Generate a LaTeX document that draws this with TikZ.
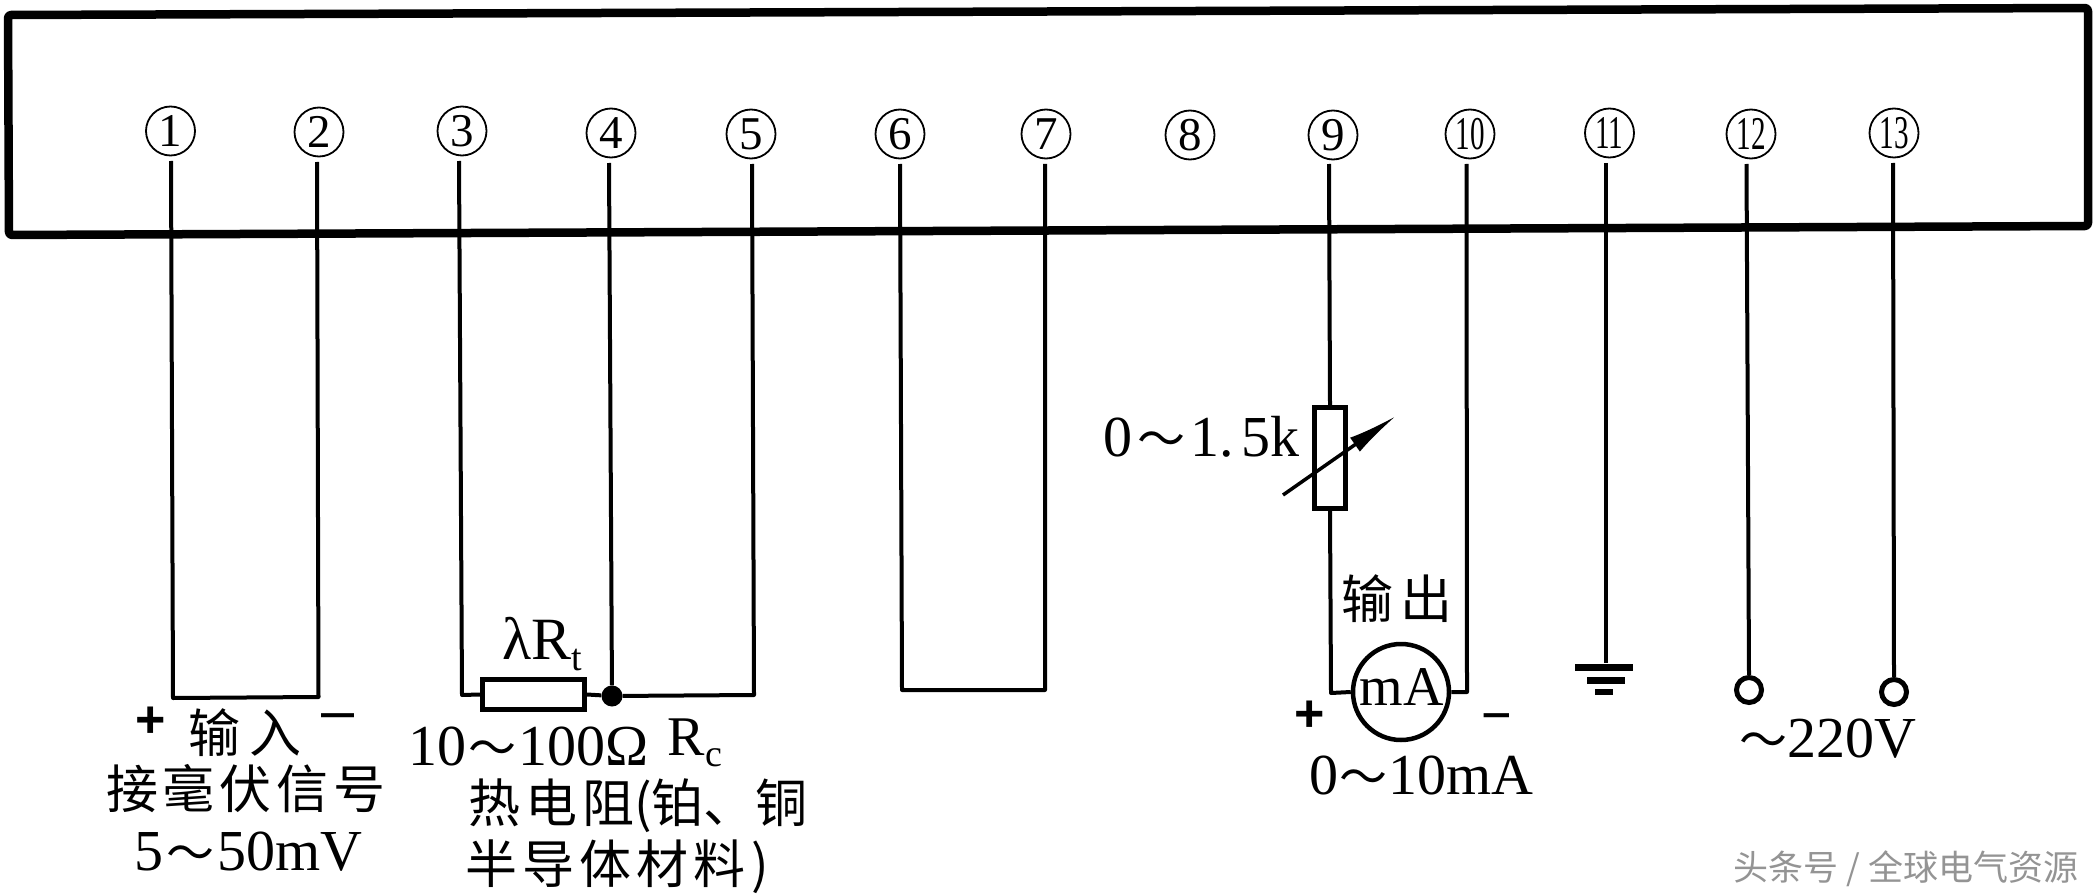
\documentclass[tikz,border=0pt]{standalone}
\usepackage{fontspec}
\setmainfont{Liberation Serif}
\newfontfamily\cjk{Noto Sans CJK SC}
\newfontfamily\pmfont{Liberation Sans}
\usetikzlibrary{arrows.meta,shapes.geometric}
\newcommand\fs[1]{\fontsize{#1}{#1}\selectfont}
\newcommand\wave{{\cjk\fs{48}～}}
\newcommand\sbs[1]{\raisebox{-11pt}{\fs{38}#1}}
\tikzset{
  wire/.style={draw=black,line width=4pt,line join=round},
  pin/.style={circle,draw=black,line width=1.8pt,minimum size=49pt,inner sep=0pt,font=\fs{47}},
  cjkt/.style={inner sep=0pt,anchor=center,font=\cjk\fs{52}},
  rom/.style={inner sep=0pt,anchor=base,font=\fs{58}},
  sign/.style={inner sep=0pt,anchor=center,font=\pmfont\bfseries\fs{52}},
  dash sign/.style={inner sep=0pt,anchor=center,font=\pmfont\fs{52}},
  res/.style={rectangle,draw=black,fill=white,line width=5pt,inner sep=0pt},
  term/.style={circle,draw=black,fill=white,line width=5pt,minimum size=25pt,inner sep=0pt},
}
\begin{document}
\begin{tikzpicture}[x=1pt,y=-1pt]
\useasboundingbox (0,0) rectangle (2096,896);
\fill[white] (0,0) rectangle (2096,896);
% housing
\draw[line width=8.5pt,line join=round,rounded corners=3pt] (8,15) -- (2088,8) -- (2088,226) -- (9,235) -- cycle;
% terminal labels
\node[pin] (n1) at (170.5,131) {1};
\node[pin] (n2) at (319,132) {2};
\node[pin] (n3) at (462,131) {3};
\node[pin] (n4) at (611,133) {4};
\node[pin] (n5) at (751,134) {5};
\node[pin] (n6) at (900,134) {6};
\node[pin] (n7) at (1046,134) {7};
\node[pin] (n8) at (1190,135) {8};
\node[pin] (n9) at (1333,135) {9};
\node[pin] (n10) at (1470,134) {\scalebox{.62}[1]{10}};
\node[pin] (n11) at (1609.5,133) {\scalebox{.62}[1]{11}};
\node[pin] (n12) at (1751,134) {\scalebox{.62}[1]{12}};
\node[pin] (n13) at (1894,133) {\scalebox{.62}[1]{13}};
% wire tops
\coordinate (t1) at (171,161);
\coordinate (t2) at (317,162);
\coordinate (t3) at (459,161);
\coordinate (t4) at (609,163);
\coordinate (t5) at (752,164);
\coordinate (t6) at (900,164);
\coordinate (t7) at (1045,164);
\coordinate (t9) at (1329,164);
\coordinate (t10) at (1466.5,164);
\coordinate (t11) at (1605.5,163);
\coordinate (t12) at (1746.5,164);
\coordinate (t13) at (1893,163);
% input loop
\coordinate (b1) at (173,698);
\coordinate (b2) at (318.5,697);
\draw[wire] (t1) -- (b1) -- (b2) -- (t2);
% RTD loop
\node[res,minimum width=102pt,minimum height=30pt] (rt) at (533.5,694.5) {};
\node[circle,fill=black,minimum size=21pt,inner sep=0pt] (dot) at (612,696) {};
\coordinate (b3) at (462,695);
\coordinate (b5) at (754,695);
\draw[wire] (t3) -- (b3) -- (rt.west);
\draw[wire] (t4) -- (dot);
\draw[wire] (rt.east) -- (dot) -- (b5) -- (t5);
% loop 6-7
\coordinate (b6) at (902,690);
\coordinate (b7) at (1045,690);
\draw[wire] (t6) -- (b6) -- (b7) -- (t7);
% output loop
\node[res,minimum width=31pt,minimum height=101pt] (rv) at (1330,458) {};
\node[circle,draw=black,fill=white,line width=4.5pt,minimum size=96pt,inner sep=0pt] (ma) at (1401,692) {};
\coordinate (b9) at (1331,693);
\coordinate (b10) at (1467,692);
\draw[wire] (t9) -- (rv.north);
\draw[wire] (rv.south) -- (b9) -- (ma.west);
\draw[wire] (t10) -- (b10) -- (ma.east);
\coordinate (as) at (1283,495);
\coordinate (ae) at (1396,416);
\draw[line width=3.5pt,-{Latex[length=50pt,width=17pt]}] (as) -- (ae);
\node[rom,font=\fs{56}] (ma text) at (1401.5,705) {mA};
% ground
\node[minimum width=58pt,minimum height=7pt,inner sep=0pt,fill=black] (g1) at (1604,667) {};
\node[minimum width=38pt,minimum height=7pt,inner sep=0pt,fill=black] (g2) at (1606,680) {};
\node[minimum width=18pt,minimum height=6pt,inner sep=0pt,fill=black] (g3) at (1604,692) {};
\draw[wire] (t11) -- (g1.north -| t11);
% mains
\node[term] (m12) at (1749,690) {};
\node[term] (m13) at (1894,692) {};
\draw[wire] (t12) -- (m12.north);
\draw[wire] (t13) -- (m13.north);
% labels
\node[sign] (lp1) at (151,722) {+};
\node[dash sign] (lm1) at (338,722) {\scalebox{2.6}[1]{-}};
\node[cjkt] (in) at (245,733) {输\kern10pt入};
\node[cjkt] (sig) at (246,789) {接\kern5pt毫\kern5pt伏\kern5pt信\kern5pt号};
\node[rom] (mv) at (248,870) {5\kern3pt\wave\kern3pt 50mV};
\node[rom,font=\fs{60}] (lrt) at (542,659) {λR\sbs{t}};
\node[rom] (ohm) at (529,765) {10\kern2pt\wave\kern2pt 100Ω};
\node[rom,font=\fs{56}] (rc) at (695,755) {R\sbs{c}};
\node[cjkt,anchor=west] (rtd1) at (468,806) {热\kern5pt电\kern5pt阻(铂、铜};
\node[cjkt,anchor=west] (rtd2) at (465,867) {半\kern5pt导\kern5pt体\kern5pt材\kern5pt料\kern6pt)};
\node[rom,anchor=base east] (r15) at (1300,456) {0\kern5pt\wave\kern5pt 1{.}\kern8pt 5k};
\node[cjkt] (out) at (1397,599) {输\kern8pt出};
\node[sign] (lp2) at (1310,716) {+};
\node[dash sign] (lm2) at (1497,722) {\scalebox{2}[1]{-}};
\node[rom] (ten) at (1421,794) {0\kern1pt\wave\kern1pt 10mA};
\node[rom] (v220) at (1828,757) {\wave 220V};
\node[inner sep=0pt,anchor=center,font=\cjk\fs{35},text=black!42] (wm) at (1906,869) {头条号 / 全球电气资源};
\end{tikzpicture}
\end{document}
